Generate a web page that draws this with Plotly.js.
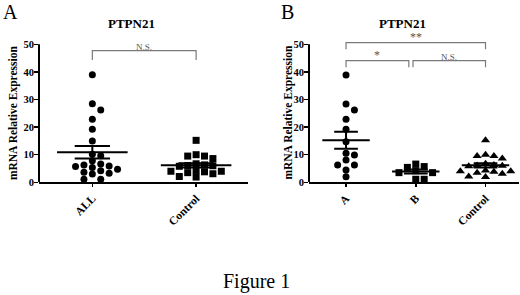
<!DOCTYPE html>
<html><head><meta charset="utf-8">
<script src="https://cdn.plot.ly/plotly-3.0.1.min.js"></script>
<style>html,body{margin:0;padding:0;background:#fff}#chart{width:520px;height:295px}</style>
</head><body><div id="chart"></div>
<script>
// ---- data ----
const panelACategories = ['ALL', 'Control'];
const panelBCategories = ['A', 'B', 'Control'];
const allValues = [39.0, 28.5, 26.2, 22.8, 19.2, 15.0, 10.2, 9.6, 7.8, 6.6, 6.3, 5.9, 5.7, 5.4, 4.7, 4.2, 3.6, 3.3, 3.0, 1.1, 1.1];
const controlValues = [15.2, 10.0, 9.5, 9.5, 8.6, 6.7, 6.3, 6.1, 6.0, 5.8, 4.3, 4.0, 4.0, 3.8, 3.5, 3.1, 2.1, 1.9];
const groupAValues = [38.9, 28.4, 26.2, 22.8, 19.2, 14.7, 10.5, 9.9, 8.1, 6.3, 6.3, 4.5, 2.0];
const groupBValues = [6.6, 5.7, 5.4, 4.2, 3.5, 3.5, 1.1, 1.1];
const yTicks = [0, 10, 20, 30, 40, 50];
const panelLabels = ['A', 'B'];
const chartTitle = 'PTPN21';
const yTitle = 'mRNA Relative Expression';
const figureCaption = 'Figure 1';
const sigA = ['N.S.'];
const sigB = ['**', '*', 'N.S.'];

// ---- layout geometry ----
const W = 520, H = 295;
const serif = 'Liberation Serif, Times New Roman, serif';
const yRange = [0, 53];
const yDomain = [(H - 182.3) / H, (H - 36) / H];
const xDomA = [39 / W, 248 / W], xRangeA = [0.486, 2.5];
const xDomB = [309 / W, 519 / W], xRangeB = [0.469, 3.48];
const pxPerY = (yDomain[1] - yDomain[0]) * H / (yRange[1] - yRange[0]);
const pxPerXA = (xDomA[1] - xDomA[0]) * W / (xRangeA[1] - xRangeA[0]);
const pxPerXB = (xDomB[1] - xDomB[0]) * W / (xRangeB[1] - xRangeB[0]);

function swarm(values, pxPerX) {
  const d = 8.4, vT = 6.5;
  const idx = values.map((v, i) => i).sort((a, b) => values[b] - values[a]);
  const placed = [], off = new Array(values.length);
  idx.forEach(i => {
    const py = values[i] * pxPerY;
    for (let s = 0; s < 60; s++) {
      const k = s === 0 ? 0 : (s % 2 === 1 ? (s + 1) / 2 : -s / 2);
      const px = k * d;
      if (!placed.some(p => Math.abs(p.px - px) < d * 0.9 && Math.abs(p.py - py) < vT)) {
        placed.push({px, py}); off[i] = px / pxPerX; break;
      }
    }
  });
  return off;
}
function stats(v) {
  const n = v.length, m = v.reduce((a, b) => a + b, 0) / n;
  const sd = Math.sqrt(v.reduce((a, b) => a + (b - m) * (b - m), 0) / (n - 1));
  return {m, s: sd / Math.sqrt(n)};
}
function dots(values, pos, pxPerX, symbol, xa, ya) {
  const off = swarm(values, pxPerX);
  return {type: 'scatter', mode: 'markers', xaxis: xa, yaxis: ya, cliponaxis: false,
    x: values.map((v, i) => pos + off[i]), y: values,
    marker: {symbol, size: symbol === 'triangle-up' ? 8 : 7, color: '#000'}, hoverinfo: 'y'};
}
function meanSem(values, pos, xa, ya) {
  const {m, s} = stats(values);
  const w = 0.34, w2 = 0.17;
  return {type: 'scatter', mode: 'lines', xaxis: xa, yaxis: ya, cliponaxis: false,
    x: [pos - w, pos + w, null, pos - w2, pos + w2, null, pos - w2, pos + w2, null, pos, pos],
    y: [m, m, null, m + s, m + s, null, m - s, m - s, null, m - s, m + s],
    line: {color: '#000', width: 2}, hoverinfo: 'skip'};
}

const traces = [
  dots(allValues, 1, pxPerXA, 'circle', 'x', 'y'),
  dots(controlValues, 2, pxPerXA, 'square', 'x', 'y'),
  meanSem(allValues, 1, 'x', 'y'),
  meanSem(controlValues, 2, 'x', 'y'),
  dots(groupAValues, 1, pxPerXB, 'circle', 'x2', 'y2'),
  dots(groupBValues, 2, pxPerXB, 'square', 'x2', 'y2'),
  dots(controlValues, 3, pxPerXB, 'triangle-up', 'x2', 'y2'),
  meanSem(groupAValues, 1, 'x2', 'y2'),
  meanSem(groupBValues, 2, 'x2', 'y2'),
  meanSem(controlValues, 3, 'x2', 'y2')
];

function xAxis(dom, rng, cats, anchor) {
  return {domain: dom, range: rng, anchor, tickvals: cats.map((c, i) => i + 1), ticktext: cats,
    tickangle: -45, showline: true, linecolor: '#000', linewidth: 2, ticks: 'outside', ticklen: 3,
    tickwidth: 1.5, tickcolor: '#000', showgrid: false, zeroline: false, fixedrange: true,
    tickfont: {family: serif, size: 11.5, weight: 'bold', color: '#000'}};
}
function yAxis(anchor) {
  return {domain: yDomain, range: yRange, anchor, tickvals: yTicks, ticks: 'outside', ticklen: 4,
    tickwidth: 1.5, tickcolor: '#000', showline: false, showgrid: false, zeroline: false, fixedrange: true,
    ticklabelstandoff: -2,
    tickfont: {family: serif, size: 10.5, weight: 'bold', color: '#000'}};
}
function bracket(xref, yref, x0, x1, yTop, yBot) {
  return {type: 'path', xref, yref, line: {color: '#7a7a7a', width: 1.2},
    path: `M${x0},${yBot} L${x0},${yTop} L${x1},${yTop} L${x1},${yBot}`};
}
const shapes = [
  {type: 'line', xref: 'x domain', yref: 'y', x0: 0, x1: 0, y0: 0, y1: yTicks[yTicks.length - 1], line: {color: '#000', width: 2}},
  {type: 'line', xref: 'x2 domain', yref: 'y2', x0: 0, x1: 0, y0: 0, y1: yTicks[yTicks.length - 1], line: {color: '#000', width: 2}},
  bracket('x', 'y', 1, 2, 47.7, 44.3),
  bracket('x2', 'y2', 1, 3, 50.6, 48.2),
  bracket('x2', 'y2', 1, 1.9, 44.1, 41.7),
  bracket('x2', 'y2', 1.96, 3, 44.1, 41.7)
];
function sig(text, xref, yref, x, y, size) {
  return {text, xref, yref, x, y, xanchor: 'center', yanchor: 'bottom', showarrow: false,
    font: {family: serif, size, color: '#555555'}, yshift: -3};
}
function pap(text, x, y, font, extra) {
  return Object.assign({text, xref: 'paper', yref: 'paper', x: x / W, y: 1 - y / H,
    xanchor: 'center', yanchor: 'middle', showarrow: false, font}, extra || {});
}
const annotations = [
  pap(panelLabels[0], 10.5, 12, {family: serif, size: 20, color: '#000'}),
  pap(panelLabels[1], 287.5, 12, {family: serif, size: 20, color: '#000'}),
  pap(chartTitle, 131.7, 23.7, {family: serif, size: 13, weight: 'bold', color: '#000'}),
  pap(chartTitle, 402.8, 23.7, {family: serif, size: 13, weight: 'bold', color: '#000'}),
  pap(yTitle, 13.5, 112.6, {family: serif, size: 11.5, weight: 'bold', color: '#000'}, {textangle: -90}),
  pap(yTitle, 289, 112.6, {family: serif, size: 11.5, weight: 'bold', color: '#000'}, {textangle: -90}),
  pap(figureCaption, 256, 281, {family: serif, size: 20, color: '#000'}),
  sig(sigA[0], 'x', 'y', 1.5, 47.7, 9),
  sig(sigB[0], 'x2', 'y2', 2, 50.6, 12),
  sig(sigB[1], 'x2', 'y2', 1.45, 44.1, 12),
  sig(sigB[2], 'x2', 'y2', 2.48, 44.1, 9)
];

const layout = {
  width: W, height: H, margin: {l: 0, r: 0, t: 0, b: 0}, showlegend: false,
  paper_bgcolor: '#fff', plot_bgcolor: '#fff',
  xaxis: xAxis(xDomA, xRangeA, panelACategories, 'y'),
  yaxis: yAxis('x'),
  xaxis2: xAxis(xDomB, xRangeB, panelBCategories, 'y2'),
  yaxis2: yAxis('x2'),
  shapes, annotations
};
Plotly.newPlot('chart', traces, layout, {displayModeBar: false, staticPlot: true});
</script>
</body></html>
